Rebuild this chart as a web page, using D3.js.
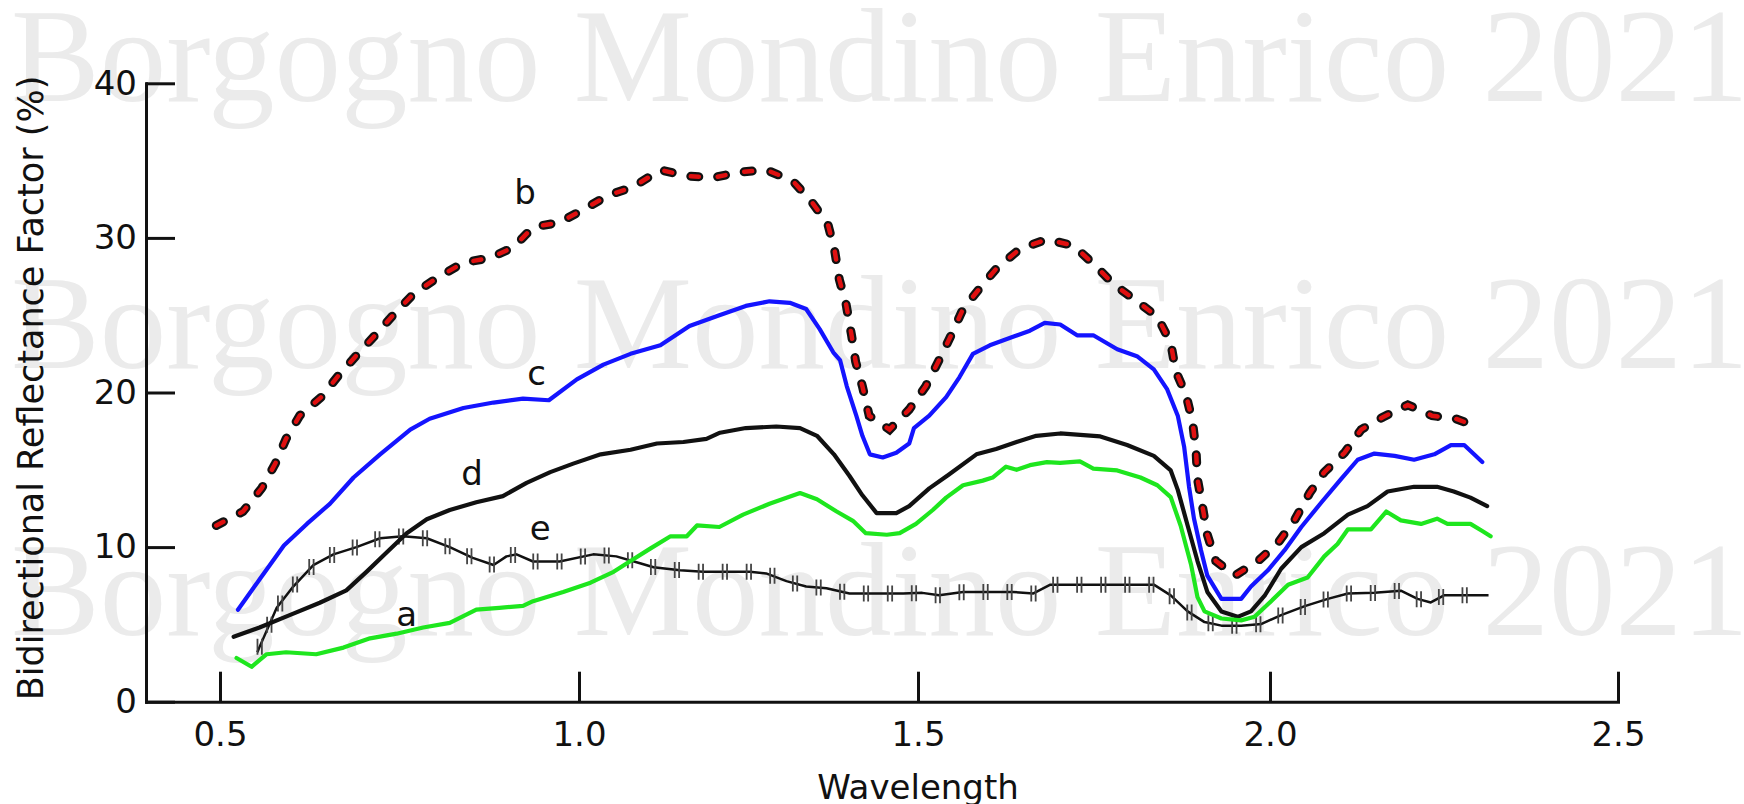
<!DOCTYPE html>
<html lang="en">
<head>
<meta charset="UTF-8">
<title>Bidirectional Reflectance Factor</title>
<script src="https://d3js.org/d3.v7.min.js"></script>
<style>
    body { margin: 0; background: #fff; }
    svg { display: block; }
    .tick text, .lbl { font-family: "DejaVu Sans", sans-serif; fill: #111; }
    .mark { font-family: "Liberation Serif", "DejaVu Serif", serif; fill: #ebebeb; }
</style>
</head>
<body>
<div id="chart"></div>
<script>
// tick labels
const wavelengthTicks = [0.5, 1.0, 1.5, 2.0, 2.5];
const reflectanceTicks = [0, 10, 20, 30, 40];

// curves: [wavelength, reflectance %]
const seriesA = [
    [0.523, 2.83], [0.544, 2.26], [0.565, 3.07], [0.592, 3.2], [0.634, 3.07], [0.672, 3.5],
    [0.709, 4.1], [0.746, 4.4], [0.783, 4.8], [0.820, 5.1], [0.857, 5.95], [0.889, 6.07],
    [0.922, 6.2], [0.936, 6.5], [0.978, 7.1], [1.017, 7.7], [1.051, 8.4], [1.076, 9.1],
    [1.105, 9.9], [1.135, 10.7], [1.159, 10.7], [1.174, 11.4], [1.207, 11.3], [1.242, 12.1],
    [1.281, 12.8], [1.326, 13.5], [1.351, 13.1], [1.380, 12.3], [1.404, 11.7], [1.423, 10.9],
    [1.454, 10.8], [1.473, 10.9], [1.497, 11.5], [1.521, 12.4], [1.540, 13.2], [1.564, 14.0],
    [1.592, 14.3], [1.606, 14.5], [1.625, 15.2], [1.640, 15.0], [1.659, 15.3], [1.683, 15.5],
    [1.702, 15.45], [1.730, 15.54], [1.749, 15.08], [1.783, 14.96], [1.816, 14.5], [1.840, 14.0],
    [1.859, 13.23], [1.873, 11.4], [1.888, 8.84], [1.897, 6.76], [1.907, 5.84], [1.931, 5.38],
    [1.959, 5.26], [1.978, 5.49], [1.997, 6.3], [2.026, 7.57], [2.054, 8.03], [2.078, 9.4],
    [2.097, 10.2], [2.112, 11.15], [2.145, 11.15], [2.167, 12.3], [2.188, 11.73], [2.217, 11.5],
    [2.240, 11.84], [2.255, 11.5], [2.288, 11.5], [2.305, 11.04], [2.317, 10.7]
];

const seriesB = [
    [0.495, 11.4], [0.532, 12.3], [0.558, 13.8], [0.577, 15.4], [0.592, 17.0], [0.611, 18.5],
    [0.641, 19.7], [0.665, 21.1], [0.690, 22.4], [0.716, 23.7], [0.743, 25.1], [0.770, 26.4],
    [0.802, 27.4], [0.839, 28.4], [0.876, 28.7], [0.909, 29.4], [0.936, 30.7], [0.973, 31.0],
    [1.009, 31.9], [1.043, 32.75], [1.080, 33.3], [1.120, 34.4], [1.159, 34.0], [1.198, 33.9],
    [1.237, 34.25], [1.276, 34.4], [1.315, 33.7], [1.342, 32.4], [1.367, 30.9], [1.377, 29.2],
    [1.384, 27.3], [1.394, 25.7], [1.402, 23.7], [1.408, 22.0], [1.418, 20.4], [1.428, 18.5],
    [1.458, 17.6], [1.487, 18.9], [1.511, 20.4], [1.530, 22.1], [1.547, 23.7], [1.564, 25.4],
    [1.587, 26.7], [1.611, 28.0], [1.645, 29.3], [1.683, 29.9], [1.721, 29.5], [1.752, 28.2],
    [1.778, 27.0], [1.811, 25.9], [1.840, 24.9], [1.859, 23.2], [1.866, 21.4], [1.881, 19.8],
    [1.890, 18.1], [1.895, 16.2], [1.897, 14.4], [1.904, 12.65], [1.911, 10.8], [1.923, 9.1],
    [1.950, 8.15], [1.983, 9.1], [2.012, 10.3], [2.036, 11.8], [2.057, 13.5], [2.078, 14.85],
    [2.107, 16.1], [2.131, 17.6], [2.162, 18.4], [2.198, 19.2], [2.233, 18.5], [2.267, 18.3],
    [2.303, 17.7]
];

const seriesC = [
    [0.525, 5.95], [0.555, 7.9], [0.589, 10.1], [0.621, 11.5], [0.653, 12.8], [0.686, 14.5],
    [0.723, 16.0], [0.765, 17.6], [0.792, 18.3], [0.839, 19.0], [0.881, 19.35], [0.922, 19.6],
    [0.958, 19.5], [0.997, 20.85], [1.036, 21.8], [1.076, 22.5], [1.120, 23.05], [1.163, 24.3],
    [1.207, 25.0], [1.246, 25.6], [1.281, 25.9], [1.311, 25.8], [1.335, 25.4], [1.355, 24.1],
    [1.375, 22.6], [1.385, 22.1], [1.395, 20.4], [1.409, 18.5], [1.418, 17.2], [1.429, 16.0],
    [1.448, 15.8], [1.468, 16.1], [1.487, 16.7], [1.494, 17.7], [1.516, 18.5], [1.540, 19.7],
    [1.559, 21.0], [1.578, 22.5], [1.602, 23.05], [1.635, 23.6], [1.659, 24.0], [1.680, 24.5],
    [1.702, 24.4], [1.726, 23.7], [1.749, 23.7], [1.783, 22.8], [1.811, 22.35], [1.835, 21.5],
    [1.854, 20.2], [1.869, 18.5], [1.878, 16.5], [1.885, 13.9], [1.892, 11.85], [1.902, 9.8],
    [1.911, 8.15], [1.931, 6.65], [1.959, 6.65], [1.973, 7.45], [1.997, 8.5], [2.021, 9.8],
    [2.045, 11.3], [2.074, 12.9], [2.102, 14.4], [2.126, 15.65], [2.150, 16.05], [2.179, 15.9],
    [2.207, 15.65], [2.236, 16.0], [2.260, 16.6], [2.279, 16.6], [2.305, 15.5]
];

const seriesD = [
    [0.519, 4.2], [0.555, 4.8], [0.597, 5.6], [0.639, 6.4], [0.676, 7.2], [0.704, 8.4],
    [0.732, 9.65], [0.760, 10.9], [0.788, 11.8], [0.820, 12.4], [0.857, 12.9], [0.894, 13.3],
    [0.927, 14.15], [0.960, 14.85], [0.992, 15.4], [1.032, 16.0], [1.076, 16.3], [1.115, 16.7],
    [1.154, 16.8], [1.188, 17.0], [1.208, 17.4], [1.246, 17.7], [1.291, 17.8], [1.326, 17.7],
    [1.351, 17.2], [1.376, 16.0], [1.399, 14.6], [1.418, 13.35], [1.439, 12.2], [1.468, 12.2],
    [1.487, 12.65], [1.516, 13.8], [1.544, 14.7], [1.583, 16.0], [1.611, 16.35], [1.640, 16.8],
    [1.668, 17.2], [1.702, 17.35], [1.759, 17.16], [1.797, 16.6], [1.835, 15.9], [1.859, 14.96],
    [1.869, 13.7], [1.883, 11.4], [1.897, 9.1], [1.911, 7.1], [1.931, 5.84], [1.954, 5.49],
    [1.973, 5.84], [1.993, 6.9], [2.016, 8.6], [2.045, 10.0], [2.078, 10.9], [2.112, 12.1],
    [2.140, 12.65], [2.169, 13.6], [2.207, 13.9], [2.240, 13.9], [2.264, 13.6], [2.288, 13.2],
    [2.312, 12.65]
];

const seriesE = [
    [0.552, 3.2], [0.555, 3.53], [0.579, 6.07], [0.602, 7.45], [0.630, 8.84], [0.658, 9.53],
    [0.690, 10.0], [0.723, 10.57], [0.755, 10.7], [0.788, 10.57], [0.820, 10.0], [0.852, 9.3],
    [0.881, 8.84], [0.899, 9.4], [0.913, 9.53], [0.936, 9.07], [0.973, 9.07], [1.021, 9.53],
    [1.055, 9.4], [1.090, 8.96], [1.110, 8.7], [1.149, 8.5], [1.183, 8.4], [1.218, 8.4],
    [1.252, 8.4], [1.276, 8.3], [1.306, 7.8], [1.335, 7.45], [1.365, 7.34], [1.399, 7.0],
    [1.439, 7.0], [1.478, 7.0], [1.506, 7.04], [1.530, 6.88], [1.564, 7.1], [1.597, 7.1],
    [1.635, 7.1], [1.664, 7.0], [1.688, 7.57], [1.749, 7.57], [1.797, 7.57], [1.835, 7.57],
    [1.859, 6.88], [1.883, 5.84], [1.907, 5.15], [1.931, 4.92], [1.959, 4.92], [1.988, 5.03],
    [2.016, 5.6], [2.050, 6.18], [2.083, 6.65], [2.112, 7.0], [2.150, 7.04], [2.188, 7.18],
    [2.212, 6.65], [2.231, 6.42], [2.250, 6.88], [2.274, 6.88], [2.314, 6.88]
];

// curve letters, placed in data units
const curveLabels = [
    { text: "b", w: 0.925, v: 32.2 },
    { text: "c", w: 0.941, v: 20.5 },
    { text: "d", w: 0.851, v: 14.0 },
    { text: "e", w: 0.946, v: 10.45 },
    { text: "a", w: 0.760, v: 4.9 }
];

const watermark = "Borgogno Mondino Enrico 2021";

const W = 1744, H = 804;

const svg = d3.select("#chart").append("svg")
    .attr("width", W)
    .attr("height", H);

// the printed axis is slightly uneven, so the scale follows the tick marks
const x = d3.scaleLinear()
    .domain([0.4, 0.5, 1.0, 1.5, 2.0, 2.5])
    .range([146, 220, 579, 918, 1270, 1618]);

const y = d3.scaleLinear()
    .domain([0, 40])
    .range([701.7, 83.3]);

// watermark behind everything
[101, 368, 635].forEach(b => {
    svg.append("text")
        .attr("class", "mark")
        .attr("x", 11)
        .attr("y", b)
        .style("font-size", "133px")
        .text(watermark);
});

const line = d3.line()
    .x(d => x(d[0]))
    .y(d => y(d[1]));

// e: thin black line with double hash marks
const ePath = svg.append("path")
    .datum(seriesE)
    .attr("fill", "none")
    .attr("stroke", "#111")
    .attr("stroke-width", 2.5)
    .attr("stroke-linejoin", "round")
    .attr("d", line);

const node = ePath.node();
const len = node.getTotalLength();
const hashes = [];
for (let s = 6; s < len; s += 24) hashes.push(node.getPointAtLength(s));

svg.append("g")
    .selectAll("path")
    .data(hashes)
    .join("path")
    .attr("d", p => `M${p.x - 2.2},${p.y - 8}V${p.y + 8}M${p.x + 2.2},${p.y - 8}V${p.y + 8}`)
    .attr("stroke", "#444")
    .attr("stroke-width", 1.8)
    .attr("fill", "none");

function drawSolid(series, color, width) {
    svg.append("path")
        .datum(series)
        .attr("fill", "none")
        .attr("stroke", color)
        .attr("stroke-width", width)
        .attr("stroke-linejoin", "round")
        .attr("stroke-linecap", "round")
        .attr("d", line);
}

drawSolid(seriesD, "#111", 4.2);
drawSolid(seriesA, "#1ee61e", 4.2);
drawSolid(seriesC, "#1414ff", 4.2);

// b: red dashes with black outline
svg.append("path")
    .datum(seriesB)
    .attr("fill", "none")
    .attr("stroke", "#111")
    .attr("stroke-width", 9)
    .attr("stroke-linecap", "round")
    .attr("stroke-dasharray", "8 19")
    .attr("d", line);

svg.append("path")
    .datum(seriesB)
    .attr("fill", "none")
    .attr("stroke", "#e01010")
    .attr("stroke-width", 4.5)
    .attr("stroke-linecap", "round")
    .attr("stroke-dasharray", "8 19")
    .attr("d", line);

// curve letters
svg.append("g")
    .selectAll("text")
    .data(curveLabels)
    .join("text")
    .attr("class", "lbl")
    .attr("x", d => x(d.w))
    .attr("y", d => y(d.v))
    .attr("text-anchor", "middle")
    .style("font-size", "34px")
    .text(d => d.text);

// axes
const xAxis = svg.append("g")
    .attr("transform", `translate(0,${y(0)})`)
    .call(d3.axisBottom(x)
        .tickValues(wavelengthTicks)
        .tickFormat(d3.format(".1f"))
        .tickSize(-30)
        .tickSizeOuter(0)
        .tickPadding(20));

const yAxis = svg.append("g")
    .attr("transform", `translate(${x(0.4)},0)`)
    .call(d3.axisLeft(y)
        .tickValues(reflectanceTicks)
        .tickSize(-29)
        .tickSizeOuter(0)
        .tickPadding(9));

[xAxis, yAxis].forEach(g => {
    g.select(".domain").attr("stroke", "#111").attr("stroke-width", 3).attr("stroke-linecap", "square");
    g.selectAll(".tick line").attr("stroke", "#111").attr("stroke-width", 3);
    g.selectAll(".tick text").style("font-size", "34px").attr("fill", "#111");
});

// axis titles
svg.append("text")
    .attr("class", "lbl")
    .attr("x", 918)
    .attr("y", 799)
    .attr("text-anchor", "middle")
    .style("font-size", "34px")
    .text("Wavelength");

svg.append("text")
    .attr("class", "lbl")
    .attr("transform", "translate(43,388) rotate(-90)")
    .attr("text-anchor", "middle")
    .style("font-size", "35px")
    .text("Bidirectional Reflectance Factor (%)");
</script>
</body>
</html>
